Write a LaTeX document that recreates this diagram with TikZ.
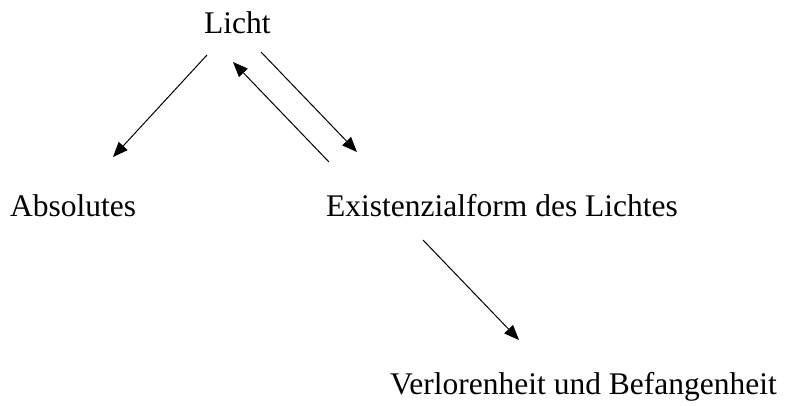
\documentclass[tikz,border=0pt]{standalone}
\usepackage{fontspec}
\setmainfont{Liberation Serif}
\usetikzlibrary{arrows.meta}
\begin{document}
\begin{tikzpicture}[x=1pt,y=-1pt,
  lbl/.style={anchor=base west,inner sep=0pt,font=\fontsize{31.5}{36}\selectfont},
  conn/.style={line width=1pt,-{Triangle[length=15pt,width=12pt]}}]
\useasboundingbox (0,0) rectangle (788,405);
\node[lbl] (licht) at (204,33) {Licht};
\node[lbl] (abs) at (10,216) {Absolutes};
\node[lbl] (exist) at (326,216) {Existenzialform des Lichtes};
\node[lbl] (verl) at (390,394) {Verlorenheit und Befangenheit};
\coordinate (a1s) at (207,55);
\coordinate (a1e) at (113,157);
\coordinate (a2s) at (329,162);
\coordinate (a2e) at (233,62);
\coordinate (a3s) at (261,52);
\coordinate (a3e) at (357,152);
\coordinate (a4s) at (423,240);
\coordinate (a4e) at (519,340);
\draw[conn] (a1s) -- (a1e);
\draw[conn] (a2s) -- (a2e);
\draw[conn] (a3s) -- (a3e);
\draw[conn] (a4s) -- (a4e);
\end{tikzpicture}
\end{document}
